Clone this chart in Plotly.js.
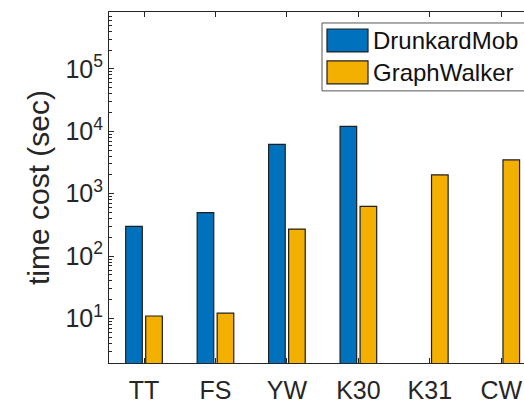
<!DOCTYPE html>
<html>
<head>
<meta charset="utf-8">
<script src="https://cdn.plot.ly/plotly-3.0.1.min.js"></script>
<style>
  html, body { margin: 0; padding: 0; overflow: hidden; background: #fff; }
  #chart { width: 557px; height: 403px; }
</style>
</head>
<body>
<div id="chart"></div>
<script>
// Datasets and measured run times (seconds, log scale)
const categories = ['TT', 'FS', 'YW', 'K30', 'K31', 'CW'];
const seriesNames = ['DrunkardMob', 'GraphWalker'];
const drunkardMob = [300, 500, 6200, 12000, null, null];
const graphWalker = [11, 12.2, 272, 627, 2000, 3500];
const yTickVals = [10, 100, 1000, 10000, 100000];
const yTickText = ['10<sup>1</sup>', '10<sup>2</sup>', '10<sup>3</sup>', '10<sup>4</sup>', '10<sup>5</sup>'];

const colors = ['#0072BD', '#F4B000'];
const edge = '#1f1f1f';
const axisColor = '#262626';
const fontFamily = '"Liberation Sans", Arial, Helvetica, sans-serif';

// Plot-area geometry in pixels
const M = { l: 109, t: 12, r: 20, b: 39.5 };
const W = 557 - M.l - M.r;
const H = 403 - M.t - M.b;
const px = x => (x - M.l) / W;
const py = y => 1 - (y - M.t) / H;

const traces = [drunkardMob, graphWalker].map((vals, i) => ({
  type: 'bar',
  name: seriesNames[i],
  x: categories,
  y: vals,
  marker: { color: colors[i], line: { color: edge, width: 1.2 } },
  showlegend: false,
  hoverinfo: 'x+y+name'
}));

// Legend drawn as a boxed key with large swatches
const shapes = [
  { type: 'rect', xref: 'paper', yref: 'paper', x0: px(322), x1: px(560), y0: py(91), y1: py(23),
    fillcolor: '#ffffff', line: { color: '#555555', width: 1 }, layer: 'above' },
  { type: 'rect', xref: 'paper', yref: 'paper', x0: px(327), x1: px(368), y0: py(52), y1: py(29),
    fillcolor: colors[0], line: { color: edge, width: 1.2 }, layer: 'above' },
  { type: 'rect', xref: 'paper', yref: 'paper', x0: px(327), x1: px(368), y0: py(84), y1: py(61),
    fillcolor: colors[1], line: { color: edge, width: 1.2 }, layer: 'above' }
];
const annotations = seriesNames.map((name, i) => ({
  xref: 'paper', yref: 'paper', x: px(371), y: py(i === 0 ? 40.5 : 72.5),
  xanchor: 'left', yanchor: 'middle', showarrow: false, text: name,
  font: { family: fontFamily, size: 24, color: '#111111' }
}));

const layout = {
  width: 557,
  height: 403,
  margin: M,
  paper_bgcolor: '#ffffff',
  plot_bgcolor: '#ffffff',
  barmode: 'group',
  bargap: 0.44,
  bargroupgap: 0.17,
  font: { family: fontFamily, size: 25, color: axisColor },
  xaxis: {
    type: 'category',
    range: [-0.49, 5.5],
    showline: true, linecolor: axisColor, linewidth: 1,
    mirror: 'ticks',
    ticks: 'inside', ticklen: 5, tickcolor: axisColor, tickwidth: 1,
    ticklabelstandoff: 5,
    tickfont: { family: fontFamily, size: 25, color: axisColor },
    showgrid: false, zeroline: false
  },
  yaxis: {
    type: 'log',
    range: [0.288, 5.912],
    tickmode: 'array', tickvals: yTickVals, ticktext: yTickText,
    showline: true, linecolor: axisColor, linewidth: 1,
    mirror: 'ticks',
    ticks: 'inside', ticklen: 5, tickcolor: axisColor, tickwidth: 1,
    minor: { ticks: 'inside', ticklen: 3, dtick: 'D1', tickcolor: axisColor, tickwidth: 1, showgrid: false },
    tickfont: { family: fontFamily, size: 25, color: axisColor },
    showgrid: false, zeroline: false,
    title: { text: 'time cost (sec)', font: { family: fontFamily, size: 30, color: axisColor }, standoff: 6 }
  },
  shapes: shapes,
  annotations: annotations
};

Plotly.newPlot('chart', traces, layout, { displayModeBar: false, staticPlot: true });
</script>
</body>
</html>
